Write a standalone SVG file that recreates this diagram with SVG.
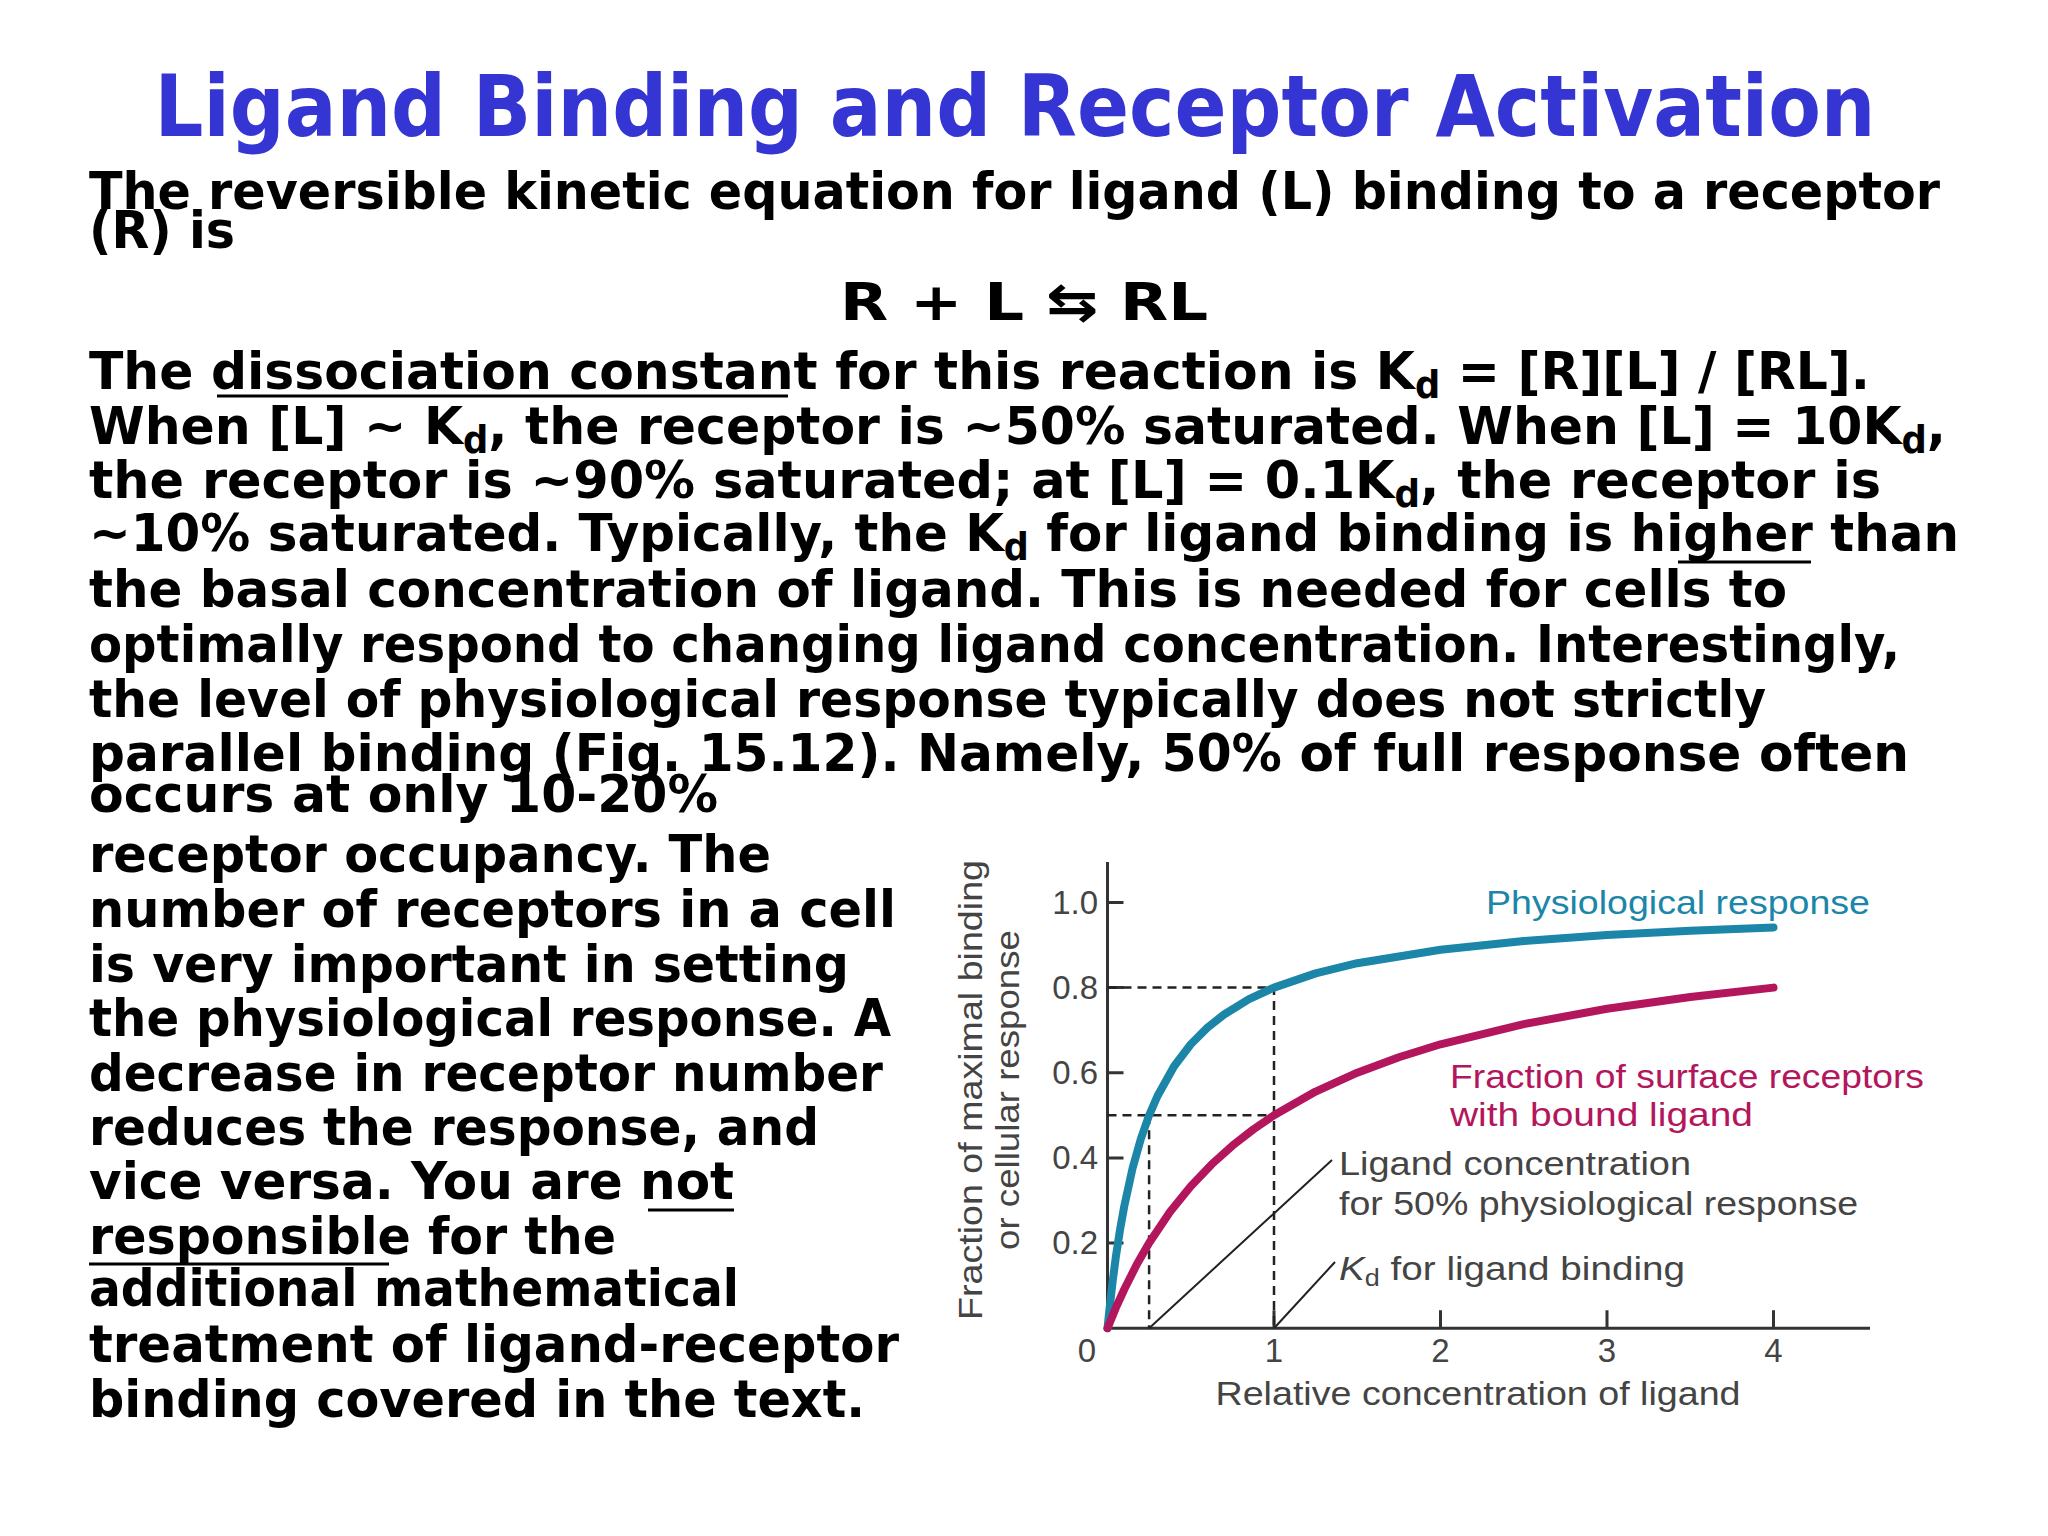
<svg xmlns="http://www.w3.org/2000/svg" width="2048" height="1536" viewBox="0 0 2048 1536">
<style>
.t{font-family:"DejaVu Sans",sans-serif;font-weight:bold;font-size:52px;fill:#000}
.s{font-size:70%;baseline-shift:-25%}
.ul{stroke:#000;stroke-width:3}
.c{font-family:"Liberation Sans Narrow","Liberation Sans",sans-serif;font-size:33px;fill:#444}
.ax{stroke:#333;stroke-width:3;fill:none}
.dash{stroke:#222;stroke-width:2.5;stroke-dasharray:9 6;fill:none}
.lead{stroke:#222;stroke-width:2;fill:none}
</style>
<rect width="2048" height="1536" fill="#fff"/>
<g id="title"><text x="1015" y="136" text-anchor="middle" font-family="'DejaVu Sans',sans-serif" font-weight="bold" font-size="86" fill="#3535d4" textLength="1721" lengthAdjust="spacingAndGlyphs">Ligand Binding and Receptor Activation</text></g>
<g id="body">
<text class="t" x="89" y="209" textLength="1851" lengthAdjust="spacingAndGlyphs">The reversible kinetic equation for ligand (L) binding to a receptor</text>
<text class="t" x="89" y="248" textLength="146" lengthAdjust="spacingAndGlyphs">(R) is</text>
<text class="t" x="840" y="320" textLength="368" lengthAdjust="spacingAndGlyphs">R  +  L ⇆ RL</text>
<text class="t" x="89" y="389" textLength="1781" lengthAdjust="spacingAndGlyphs">The dissociation constant for this reaction is K<tspan class="s">d</tspan> = [R][L] / [RL].</text>
<text class="t" x="89" y="444" textLength="1857" lengthAdjust="spacingAndGlyphs">When [L] ~ K<tspan class="s">d</tspan>, the receptor is ~50% saturated. When [L] = 10K<tspan class="s">d</tspan>,</text>
<text class="t" x="89" y="498" textLength="1792" lengthAdjust="spacingAndGlyphs">the receptor is ~90% saturated; at [L] = 0.1K<tspan class="s">d</tspan>, the receptor is</text>
<text class="t" x="89" y="551" textLength="1870" lengthAdjust="spacingAndGlyphs">~10% saturated. Typically, the K<tspan class="s">d</tspan> for ligand binding is higher than</text>
<text class="t" x="89" y="607" textLength="1698" lengthAdjust="spacingAndGlyphs">the basal concentration of ligand. This is needed for cells to</text>
<text class="t" x="89" y="662" textLength="1811" lengthAdjust="spacingAndGlyphs">optimally respond to changing ligand concentration. Interestingly,</text>
<text class="t" x="89" y="717" textLength="1677" lengthAdjust="spacingAndGlyphs">the level of physiological response typically does not strictly</text>
<text class="t" x="89" y="771" textLength="1820" lengthAdjust="spacingAndGlyphs">parallel binding (Fig. 15.12). Namely, 50% of full response often</text>
<text class="t" x="89" y="812" textLength="629" lengthAdjust="spacingAndGlyphs">occurs at only 10-20%</text>
<text class="t" x="89" y="872" textLength="682" lengthAdjust="spacingAndGlyphs">receptor occupancy. The</text>
<text class="t" x="89" y="927" textLength="807" lengthAdjust="spacingAndGlyphs">number of receptors in a cell</text>
<text class="t" x="89" y="982" textLength="760" lengthAdjust="spacingAndGlyphs">is very important in setting</text>
<text class="t" x="89" y="1036" textLength="802" lengthAdjust="spacingAndGlyphs">the physiological response. A</text>
<text class="t" x="89" y="1091" textLength="794" lengthAdjust="spacingAndGlyphs">decrease in receptor number</text>
<text class="t" x="89" y="1145" textLength="730" lengthAdjust="spacingAndGlyphs">reduces the response, and</text>
<text class="t" x="89" y="1199" textLength="645" lengthAdjust="spacingAndGlyphs">vice versa. You are not</text>
<text class="t" x="89" y="1254" textLength="527" lengthAdjust="spacingAndGlyphs">responsible for the</text>
<text class="t" x="89" y="1306" textLength="650" lengthAdjust="spacingAndGlyphs">additional mathematical</text>
<text class="t" x="89" y="1362" textLength="810" lengthAdjust="spacingAndGlyphs">treatment of ligand-receptor</text>
<text class="t" x="89" y="1417" textLength="776" lengthAdjust="spacingAndGlyphs">binding covered in the text.</text>
<line class="ul" x1="217" y1="396" x2="788" y2="396"/>
<line class="ul" x1="1678" y1="562" x2="1811" y2="562"/>
<line class="ul" x1="648" y1="1210" x2="734" y2="1210"/>
<line class="ul" x1="89" y1="1264" x2="389" y2="1264"/>
</g>
<g id="chart">
<path class="ax" d="M1107.5,862 V1328.2 H1870"/>
<path class="ax" d="M1107.5,902.4 h16 M1107.5,987.6 h16 M1107.5,1072.7 h16 M1107.5,1157.9 h16 M1107.5,1243 h16 M1274,1328.2 v-18 M1440.5,1328.2 v-18 M1607,1328.2 v-18 M1773.5,1328.2 v-18"/>
<g class="c" text-anchor="end">
<text x="1098" y="914">1.0</text><text x="1098" y="999">0.8</text><text x="1098" y="1084">0.6</text><text x="1098" y="1169">0.4</text><text x="1098" y="1254">0.2</text>
</g>
<g class="c" text-anchor="middle">
<text x="1087" y="1362">0</text><text x="1274" y="1362">1</text><text x="1440.5" y="1362">2</text><text x="1607" y="1362">3</text><text x="1773.5" y="1362">4</text>
<text x="1478" y="1405" textLength="525" lengthAdjust="spacingAndGlyphs">Relative concentration of ligand</text>
<text transform="translate(982,1090) rotate(-90)" x="0" y="0" textLength="460" lengthAdjust="spacingAndGlyphs">Fraction of maximal binding</text>
<text transform="translate(1019,1090) rotate(-90)" x="0" y="0" textLength="320" lengthAdjust="spacingAndGlyphs">or cellular response</text>
</g>
<path class="dash" d="M1107.5,987.6 H1274 V1328.2 M1107.5,1115.3 H1274 M1149.1,1115.3 V1328.2"/>
<path class="lead" d="M1149.1,1328.2 L1332,1160 M1274,1328.2 L1335,1262"/>
<polyline fill="none" stroke="#1b86a8" stroke-width="8" stroke-linejoin="round" stroke-linecap="round" points="1107.5,1328.2 1109.2,1311.8 1112.5,1282.6 1115.8,1257.2 1120,1229.9 1124.2,1206.5 1132.5,1168.5 1140.8,1139 1149.1,1115.3 1157.5,1096 1174.1,1066.2 1190.8,1044.3 1207.4,1027.6 1224.1,1014.5 1249,999.2 1274,987.6 1315.6,973.4 1357.3,963.2 1440.5,949.7 1523.8,941.1 1607,935.1 1690.3,930.8 1773.5,927.4"/>
<polyline fill="none" stroke="#b3165c" stroke-width="8" stroke-linejoin="round" stroke-linecap="round" points="1107.5,1328.2 1115.8,1307.9 1124.2,1289.5 1136.6,1264.8 1149.1,1243 1169.9,1212.1 1190.8,1186.3 1211.6,1164.4 1232.4,1145.7 1253.2,1129.5 1274,1115.3 1315.6,1091.6 1357.3,1072.7 1398.9,1057.2 1440.5,1044.3 1523.8,1024.1 1607,1008.8 1690.3,997 1773.5,987.6"/>
<text class="c" x="1486" y="914" style="fill:#1b86a8" textLength="384" lengthAdjust="spacingAndGlyphs">Physiological response</text>
<text class="c" x="1450" y="1088" style="fill:#b3165c" textLength="474" lengthAdjust="spacingAndGlyphs">Fraction of surface receptors</text>
<text class="c" x="1450" y="1126" style="fill:#b3165c" textLength="303" lengthAdjust="spacingAndGlyphs">with bound ligand</text>
<text class="c" x="1339" y="1175" textLength="352" lengthAdjust="spacingAndGlyphs">Ligand concentration</text>
<text class="c" x="1339" y="1215" textLength="519" lengthAdjust="spacingAndGlyphs">for 50% physiological response</text>
<text class="c" x="1339" y="1280" textLength="346" lengthAdjust="spacingAndGlyphs"><tspan font-style="italic">K</tspan><tspan class="s">d</tspan> for ligand binding</text>
</g>
</svg>
